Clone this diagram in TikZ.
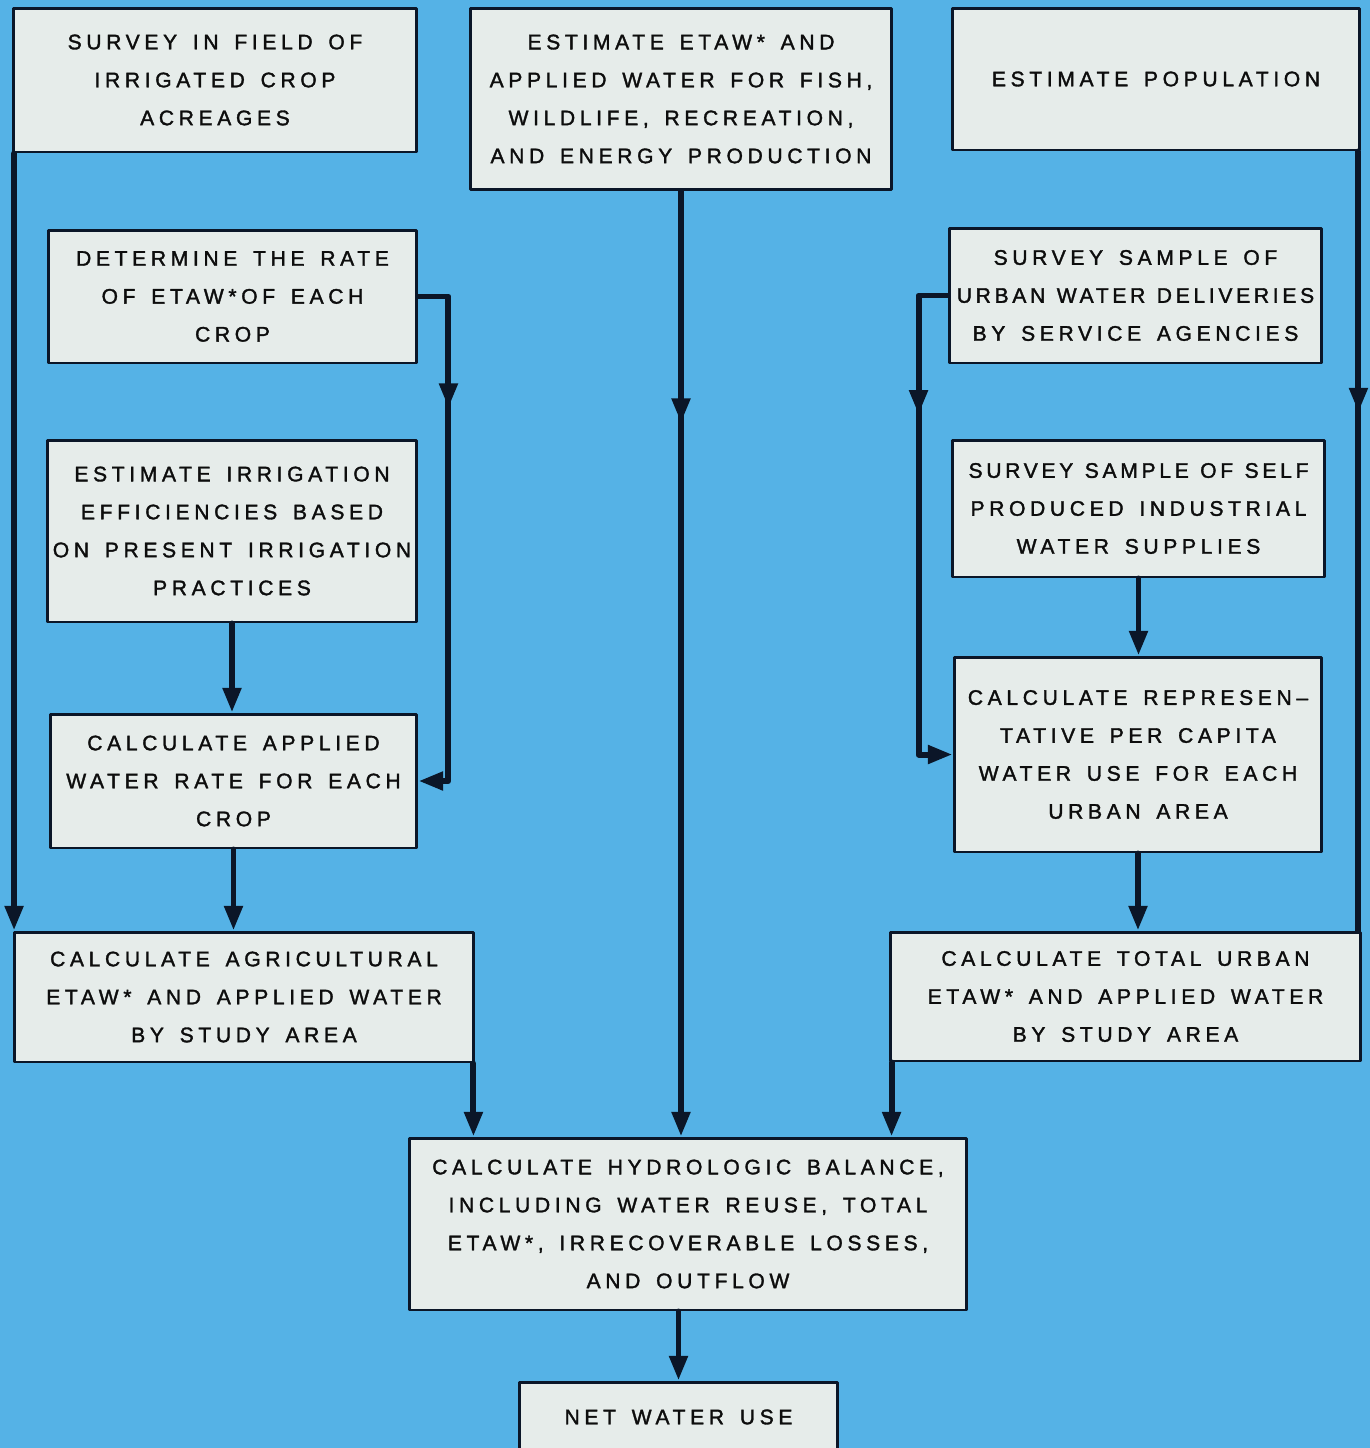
\documentclass[tikz,border=0pt]{standalone}
\usepackage{fontspec}
\usepackage{tikz}
\usetikzlibrary{arrows.meta}
\usetikzlibrary{decorations.markings}
\newfontfamily\chartfont[LetterSpace=22,WordSpace=1.5,FakeBold=1.6]{Liberation Sans}
\newfontfamily\chartfonttight[LetterSpace=17.5,WordSpace=1.2,FakeBold=1.6]{Liberation Sans}
\definecolor{sheetblue}{HTML}{55B2E6}
\definecolor{boxfill}{HTML}{E6ECEA}
\definecolor{inkline}{HTML}{0B1628}

\begin{document}
\begin{tikzpicture}[line cap=round,line join=round,>={Triangle[length=14pt,width=10pt]},x=0.02cm,y=-0.02cm,
    procbox/.style={draw=inkline,line width=1.7pt,fill=boxfill,inner sep=0pt,align=center,
      font=\chartfont\fontsize{12}{21.6}\selectfont,text=black!95},
    flow/.style={draw=inkline,line width=3.4pt},
    midtip/.style={postaction={decorate},decoration={markings,mark=at position #1 with {\arrow{>}}}}]
        \useasboundingbox (0,0) rectangle (1370,1448);
        \clip (0,0) rectangle (1370,1448);
        \fill[sheetblue] (0,0) rectangle (1370,1448);
        % top row
        \node[procbox,minimum width=8.08cm,minimum height=2.88cm] (survey) at (215,80) {SURVEY IN FIELD OF\\IRRIGATED CROP\\ACREAGES};
        \node[procbox,minimum width=8.44cm,minimum height=3.64cm] (fish) at (681,99) {ESTIMATE ETAW* AND\\APPLIED WATER FOR FISH,\\WILDLIFE, RECREATION,\\AND ENERGY PRODUCTION};
        \node[procbox,minimum width=8.16cm,minimum height=2.84cm] (pop) at (1156,79) {ESTIMATE POPULATION};
        % agricultural side
        \node[procbox,minimum width=7.38cm,minimum height=2.66cm] (rate) at (232.5,296.5) {DETERMINE THE RATE\\OF ETAW*OF EACH\\CROP};
        \node[procbox,minimum width=7.40cm,minimum height=3.64cm] (effic) at (232,531) {ESTIMATE IRRIGATION\\EFFICIENCIES BASED\\ON PRESENT IRRIGATION\\PRACTICES};
        \node[procbox,minimum width=7.34cm,minimum height=2.68cm] (applied) at (233.5,781) {CALCULATE APPLIED\\WATER RATE FOR EACH\\CROP};
        \node[procbox,minimum width=9.20cm,minimum height=2.60cm] (agri) at (244,997) {CALCULATE AGRICULTURAL\\ETAW* AND APPLIED WATER\\BY STUDY AREA};
        % urban side
        \node[procbox,minimum width=7.46cm,minimum height=2.70cm] (deliv) at (1135.5,295.5) {SURVEY SAMPLE OF\\{\chartfonttight URBAN WATER DELIVERIES}\\BY SERVICE AGENCIES};
        \node[procbox,minimum width=7.46cm,minimum height=2.74cm] (self) at (1138.5,508.5) {{\chartfonttight SURVEY SAMPLE OF SELF}\\PRODUCED INDUSTRIAL\\WATER SUPPLIES};
        \node[procbox,minimum width=7.36cm,minimum height=3.90cm] (repr) at (1138,754.5) {CALCULATE REPRESEN–\\TATIVE PER CAPITA\\WATER USE FOR EACH\\URBAN AREA};
        \node[procbox,minimum width=9.42cm,minimum height=2.58cm] (total) at (1125.5,996.5) {CALCULATE TOTAL URBAN\\ETAW* AND APPLIED WATER\\BY STUDY AREA};
        % bottom
        \node[procbox,minimum width=11.16cm,minimum height=3.44cm] (hydro) at (688,1224) {CALCULATE HYDROLOGIC BALANCE,\\INCLUDING WATER REUSE, TOTAL\\ETAW*, IRRECOVERABLE LOSSES,\\AND OUTFLOW};
        \node[procbox,minimum width=6.38cm,minimum height=1.40cm] (net) at (678.5,1417) {NET WATER USE};
        % connectors
        \draw[flow,->] ([xshift=0.05cm]survey.south west) -- ([xshift=0.05cm]survey.south west |- agri.north);
        \draw[flow,->,midtip=0.26] (rate.east) -- ++(30,0) |- (applied.east);
        \draw[flow,->] (effic.south) -- (effic.south |- applied.north);
        \draw[flow,->] (applied.south) -- (applied.south |- agri.north);
        \draw[flow,->,midtip=0.245] (fish.south) -- (fish.south |- hydro.north);
        \draw[flow,midtip=0.335] ([xshift=-0.06cm]pop.south east) -- ([xshift=-0.06cm]pop.south east |- total.north);
        \draw[flow,->,midtip=0.284] (deliv.west) -- ++(-29,0) |- (repr.west);
        \draw[flow,->] (self.south) -- (self.south |- repr.north);
        \draw[flow,->] (repr.south) -- (repr.south |- total.north);
        \draw[flow,->] ([xshift=-0.04cm]agri.south east) -- ([xshift=-0.04cm]agri.south east |- hydro.north);
        \draw[flow,->] ([xshift=0.06cm]total.south west) -- ([xshift=0.06cm]total.south west |- hydro.north);
        \draw[flow,->] (net.north |- hydro.south) -- (net.north);
\end{tikzpicture}
\end{document}
